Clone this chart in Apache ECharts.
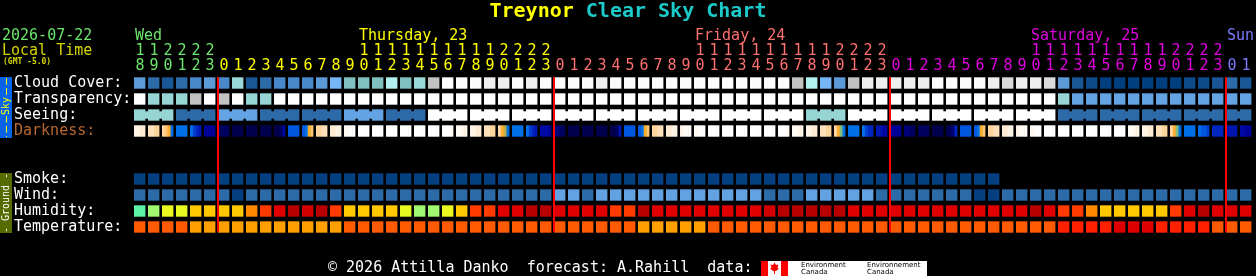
<!DOCTYPE html>
<html><head><meta charset="utf-8">
<script src="https://cdn.jsdelivr.net/npm/echarts@6/dist/echarts.min.js"></script>
<style>html,body{margin:0;padding:0;background:#000;}#c{width:1256px;height:276px;}</style>
</head><body><div id="c"></div>
<script>
// ---------------- DATA ----------------
const hours = [18,19,20,21,22,23,
  0,1,2,3,4,5,6,7,8,9,10,11,12,13,14,15,16,17,18,19,20,21,22,23,
  0,1,2,3,4,5,6,7,8,9,10,11,12,13,14,15,16,17,18,19,20,21,22,23,
  0,1,2,3,4,5,6,7,8,9,10,11,12,13,14,15,16,17,18,19,20,21,22,23,
  0,1];
const dayNames = ['Wed','Thursday, 23','Friday, 24','Saturday, 25','Sun'];
const dayLabelCols = [0,16,40,64,78];
const rowNames = ['Cloud Cover:','Transparency:','Seeing:','Darkness:','','','Smoke:','Wind:','Humidity:','Temperature:'];

// cloud cover, percent
const cloudCover = [40,20,10,20,30,40,30,70,10,20,30,30,30,40,50,60,60,60,80,60,
  70,85,100,100,100,95,95,100,95,100,100,100,100,95,100,100,100,100,100,100,
  100,100,100,100,100,100,100,85,80,50,40,85,95,95,95,95,95,100,100,100,
  100,95,90,95,95,90,40,10,5,0,0,0,0,0,0,5,5,10,20,10];
// transparency: 0 too cloudy,1 poor,2 below avg,3 average,4 above avg,5 transparent
const transparency = [0,2,2,2,1,0,1,0,2,2,0,0,0,0,0,0,0,0,0,0,
  0,0,0,0,0,0,0,0,0,0,0,0,0,0,0,0,0,0,0,0,
  0,0,0,0,0,0,0,0,0,0,0,0,0,0,0,0,0,0,0,0,
  0,0,0,0,0,0,2,3,3,3,3,3,3,3,3,3,3,3,3,3];
// seeing: 0 too cloudy,1 bad,2 poor,3 average,4 good,5 excellent
const seeing = [2,2,2,4,4,4,3,3,3,4,4,4,4,4,4,3,3,3,4,4,
  4,0,0,0,0,0,0,0,0,0,0,0,0,0,0,0,0,0,0,0,
  0,0,0,0,0,0,0,0,2,2,2,0,0,0,0,0,0,0,0,0,
  0,0,0,0,0,0,4,4,4,4,4,4,4,4,4,4,4,4,4,4];
// darkness level per quarter hour (0 = daylight ... 19 = darkest)
const darkness = [
  [2,2,3,3],[4,4,5,5],[5,6,7,10],[10,10,10,10],[10,12,13,14],[16,16,16,16],
  [18,18,18,18],[19,19,19,19],[19,19,19,19],[19,19,19,19],[19,19,18,15],[11,11,11,11],
  [11,10,7,6],[5,5,4,4],[3,3,2,2],[1,1,0,0],[0,0,0,0],[0,0,0,0],
  [0,0,0,0],[0,0,0,0],[0,0,0,0],[0,0,0,0],[0,0,0,1],[1,1,2,2],
  [2,2,3,3],[4,4,5,5],[5,7,8,10],[10,10,10,10],[10,12,13,14],[15,15,15,16],
  [17,17,18,18],[19,19,19,19],[19,19,19,19],[19,19,19,19],[19,19,18,14],[11,11,11,11],
  [11,10,7,6],[5,5,4,4],[3,3,2,2],[2,1,1,1],[1,1,0,0],[0,0,0,0],
  [0,0,0,0],[0,0,0,0],[0,0,0,0],[0,0,0,0],[0,0,0,1],[1,1,2,2],
  [2,2,3,3],[4,4,5,5],[5,7,9,10],[10,10,10,10],[10,12,13,13],[14,14,15,15],
  [16,16,16,16],[17,17,18,18],[18,18,18,18],[19,19,19,19],[19,18,17,13],[11,11,11,11],
  [11,10,7,6],[5,5,4,4],[3,3,2,2],[2,1,1,1],[1,1,0,0],[0,0,0,0],
  [0,0,0,0],[0,0,0,0],[0,0,0,0],[0,0,0,0],[0,0,0,0],[1,1,2,2],
  [2,2,3,3],[4,4,5,5],[5,7,9,10],[10,10,10,10],[10,11,11,12],[13,13,13,13],
  [14,14,14,14],[15,15,16,16]];
// smoke: 0 = no smoke (forecast ends early)
const smoke = [0,0,0,0,0,0,0,0,0,0,0,0,0,0,0,0,0,0,0,0,
  0,0,0,0,0,0,0,0,0,0,0,0,0,0,0,0,0,0,0,0,
  0,0,0,0,0,0,0,0,0,0,0,0,0,0,0,0,0,0,0,0,
  0,0];
// wind class: 0 = 0-5 mph, 1 = 6-11 mph, 2 = 12-16 mph
const wind = [1,1,1,1,1,1,1,0,1,1,1,1,1,1,1,1,1,1,1,1,
  1,1,1,1,1,1,1,1,1,1,2,2,1,2,2,2,2,2,2,2,
  2,2,2,2,2,1,1,1,2,2,2,2,2,1,1,1,1,1,1,1,
  0,0,1,1,1,1,1,1,1,1,1,1,1,1,1,1,1,1,1,1];
// relative humidity, percent
const humidity = [55,60,65,65,70,70,70,70,75,80,85,95,90,95,80,70,70,70,70,65,
  60,60,65,70,80,80,85,85,95,95,85,85,85,85,80,80,95,85,85,85,
  85,85,85,85,85,90,95,95,95,95,95,85,85,85,85,85,85,85,85,85,
  85,85,85,85,95,85,80,80,75,70,70,70,70,70,80,85,95,85,85,85];
// temperature, deg C
const temperature = [20,20,20,20,16,16,16,16,16,16,16,16,16,16,16,20,20,20,20,20,
  20,20,20,20,20,20,20,20,20,20,20,20,20,20,20,20,16,16,16,16,
  16,20,20,20,20,20,20,20,20,20,20,20,20,20,20,20,20,20,20,20,
  20,20,20,20,20,20,24,24,24,24,28,28,28,24,24,24,24,20,20,20];

// ---------------- STYLE ----------------
const MONO = '"DejaVu Sans Mono", monospace';
const cloudPal = {0:'#003f7f',5:'#0c4a8a',10:'#1a5696',20:'#2c6aa8',30:'#4a88cc',40:'#5c9ad8',50:'#76b6f6',
  60:'#80c0c0',70:'#99d9d9',80:'#b3f1f1',85:'#c2c2c2',90:'#dadada',95:'#eeeeee',100:'#fbfbfb'};
const transPal = {0:'#ffffff',1:'#c2c2c2',2:'#97d5d5',3:'#63a3e3',4:'#2c6aa8',5:'#003f7f'};
const seePal = transPal;
const darkPal = ['#ffffff','#fffaf4','#fff4e6','#ffecd4','#ffe2bc','#ffd6a0','#ffc470','#ffae30',
  '#b8b048','#80c080','#0070e8','#0058e0','#0040d0','#0028c0','#0016b0','#0008a4','#000098','#000078','#000060','#00004c'];
const smokePal = {0:'#043f80'};
const windPal = {0:'#063f80',1:'#2c6aa8',2:'#62a2e2'};
const humPal = {55:'#5cf5a8',60:'#a0f870',65:'#e8f820',70:'#ffc800',75:'#ff8800',80:'#ff3b00',85:'#e00000',90:'#d20000',95:'#b80000'};
const tempPal = {16:'#ffa000',20:'#ff5a00',24:'#ff2000',28:'#dd0000'};
const dayColors = ['#6ce66c','#ffff00','#ff7070','#e000e0','#7a7aff'];

const CW = 11.4, CH = 11.4;
const dayIdx = []; { let d = 0; hours.forEach((h,i)=>{ if(i>0 && h===0) d++; dayIdx.push(d); }); }
const midnightCols = hours.map((h,i)=> (i>0 && h===0) ? i : -1).filter(i=>i>=0);

function cellSeries(row, values, pal, bridge3) {
  return {
    type:'custom', silent:true, encode:{x:0,y:1},
    data: values.map((v,i)=>[i,row,v]),
    renderItem:(p, api)=>{
      const i = api.value(0);
      const c = api.coord([i, api.value(1)]);
      const fill = pal[api.value(2)];
      const kids = [{type:'rect', shape:{x:c[0]-6, y:c[1]-CH/2, width:CW, height:CH}, style:{fill}}];
      if (bridge3 && (hours[i] % 3) !== 2 && i < values.length-1) {
        const c2 = api.coord([i+1, api.value(1)]);
        kids.push({type:'rect', shape:{x:c[0]-6+CW-0.5, y:c[1]-CH/2+2, width:c2[0]-c[0]-CW+1, height:CH-4}, style:{fill}});
      }
      return {type:'group', children:kids};
    }
  };
}

const series = [
  cellSeries(0, cloudCover, cloudPal),
  cellSeries(1, transparency, transPal),
  cellSeries(2, seeing, seePal, true),
  {
    type:'custom', silent:true, encode:{x:0,y:1},
    data: darkness.map((q,i)=>[i,3,q[0],q[1],q[2],q[3]]),
    renderItem:(p, api)=>{
      const c = api.coord([api.value(0), api.value(1)]);
      const w = CW/4, kids = [];
      for (let k=0;k<4;k++) kids.push({type:'rect', shape:{x:c[0]-6+k*w, y:c[1]-CH/2, width:w+(k<3?0.4:0), height:CH}, style:{fill:darkPal[api.value(2+k)]}});
      return {type:'group', children:kids};
    }
  },
  cellSeries(6, smoke, smokePal),
  cellSeries(7, wind, windPal),
  cellSeries(8, humidity, humPal),
  cellSeries(9, temperature, tempPal),
  {
    type:'custom', silent:true, encode:{x:0,y:1}, z:5,
    data: midnightCols.map(i=>[i,0]),
    renderItem:(p, api)=>{
      const top = api.coord([api.value(0), 0]);
      const bot = api.coord([api.value(0), 9]);
      return {type:'rect', shape:{x:Math.round(top[0]-7), y:Math.round(top[1]-CH/2), width:2, height:Math.round(bot[1]-top[1]+CH)}, style:{fill:'#ff0000'}};
    }
  }
];

const chart = echarts.init(document.getElementById('c'));
const labelCommon = {interval:0, fontFamily:MONO, fontSize:15};
chart.setOption({
  backgroundColor:'#000000',
  animation:false,
  grid:{left:133, right:3, top:75, height:160},
  xAxis:[
    {type:'category', data:hours, position:'top', axisLine:{show:false}, axisTick:{show:false}, splitLine:{show:false},
     axisLabel:Object.assign({}, labelCommon, {margin:1.5, formatter:(v)=>String(Number(v)%10), color:(v,i)=>dayColors[dayIdx[i]]})},
    {type:'category', data:hours, position:'top', offset:15, axisLine:{show:false}, axisTick:{show:false}, splitLine:{show:false},
     axisLabel:Object.assign({}, labelCommon, {margin:1.5, formatter:(v)=>Number(v)>=10?String(Math.floor(Number(v)/10)):'', color:(v,i)=>dayColors[dayIdx[i]]})}
  ],
  yAxis:{type:'category', inverse:true, data:rowNames, axisLine:{show:false}, axisTick:{show:false}, splitLine:{show:false},
    axisLabel:Object.assign({}, labelCommon, {align:'left', margin:119, color:(v)=> v==='Darkness:'?'#b86830':'#ffffff'})},
  series
});

// header / side / footer graphics
const g = [];
g.push({type:'text', style:{text:'Treynor', x:489.5, y:1.7, font:'bold 20px '+MONO, fill:'#ffff00', textVerticalAlign:'top'}});
g.push({type:'text', style:{text:'Clear Sky Chart', x:489.5+8*12.04, y:1.7, font:'bold 20px '+MONO, fill:'#1ccaca', textVerticalAlign:'top'}});
g.push({type:'text', style:{text:'2026-07-22', x:2, y:35.7, font:'15px '+MONO, fill:'#6ce66c', textVerticalAlign:'middle'}});
g.push({type:'text', style:{text:'Local Time', x:2, y:50.7, font:'15px '+MONO, fill:'#d4d400', textVerticalAlign:'middle'}});
g.push({type:'text', style:{text:'(GMT -5.0)', x:3, y:62.3, font:'bold 8px '+MONO, fill:'#d4d400', textVerticalAlign:'middle'}});
dayNames.forEach((n,k)=>{
  const px = chart.convertToPixel({xAxisIndex:0}, dayLabelCols[k]);
  g.push({type:'text', style:{text:n, x:px-5, y:35.7, font:'15px '+MONO, fill:dayColors[k], textVerticalAlign:'middle'}});
});
// side bars
g.push({type:'rect', shape:{x:0, y:77, width:12, height:61}, style:{fill:'#0864e6'}});
g.push({type:'line', shape:{x1:6.5, y1:78, x2:6.5, y2:97}, style:{stroke:'#ffff00', lineWidth:1, lineDash:[6.7,3.3]}});
g.push({type:'line', shape:{x1:6.5, y1:116, x2:6.5, y2:137}, style:{stroke:'#ffff00', lineWidth:1, lineDash:[6.7,3.3]}});
g.push({type:'text', rotation:Math.PI/2, x:6, y:106, style:{text:'Sky', x:0, y:0, font:'10px '+MONO, fill:'#ffff00', textAlign:'center', textVerticalAlign:'middle'}});
g.push({type:'rect', shape:{x:0, y:173, width:12, height:60}, style:{fill:'#566b00'}});
g.push({type:'text', rotation:Math.PI/2, x:6, y:203, style:{text:'- Ground -', x:0, y:0, font:'10px '+MONO, fill:'#ffffff', textAlign:'center', textVerticalAlign:'middle'}});
// footer
g.push({type:'text', style:{text:'\u00a9 2026 Attilla Danko  forecast: A.Rahill  data:', x:328, y:267.7, font:'15px '+MONO, fill:'#ffffff', textVerticalAlign:'middle'}});
g.push({type:'rect', shape:{x:761, y:261, width:166, height:16}, style:{fill:'#ffffff'}});
g.push({type:'rect', shape:{x:761, y:261, width:7, height:16}, style:{fill:'#ff0000'}});
g.push({type:'rect', shape:{x:781, y:261, width:7, height:16}, style:{fill:'#ff0000'}});
g.push({type:'polygon', shape:{points:[[774.5,262.5],[776,265],[778.5,264.5],[777.5,268],[779,268.5],[776,271],[775,271],[775,274],[774,274],[774,271],[773,271],[770,268.5],[771.5,268],[770.5,264.5],[773,265]]}, style:{fill:'#ff0000'}});
g.push({type:'text', style:{text:'Environment\nCanada', x:801, y:262, font:'7px "DejaVu Sans"', fill:'#000000', textVerticalAlign:'top', lineHeight:7}});
g.push({type:'text', style:{text:'Environnement\nCanada', x:867, y:262, font:'7px "DejaVu Sans"', fill:'#000000', textVerticalAlign:'top', lineHeight:7}});
chart.setOption({graphic:{elements:g}});
</script></body></html>
